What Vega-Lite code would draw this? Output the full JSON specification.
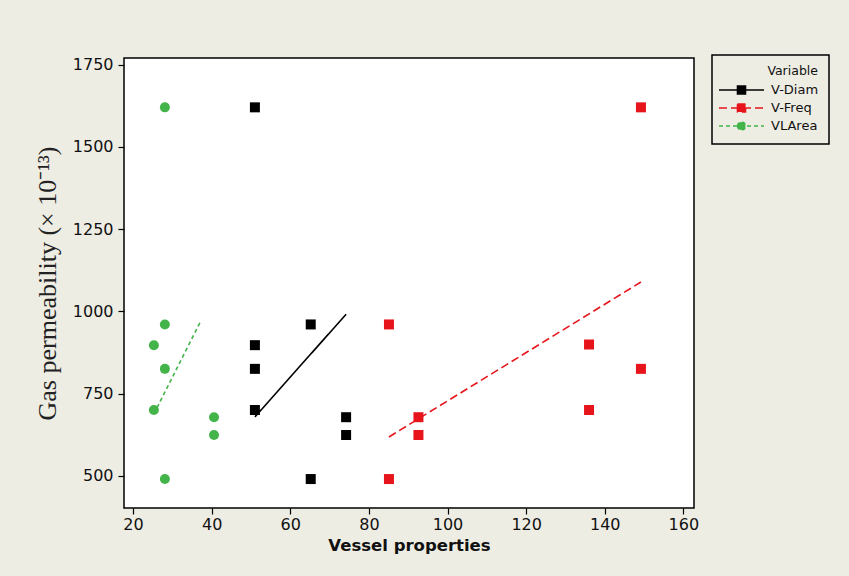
{
  "$schema": "https://vega.github.io/schema/vega-lite/v6.json",
  "autosize": "none",
  "width": 570,
  "height": 450,
  "padding": {"left": 124, "top": 58, "right": 155, "bottom": 68},
  "background": "#eeede4",
  "config": {
    "view": {"fill": "white", "stroke": "black", "strokeWidth": 1.5},
    "axis": {
      "domain": false, "grid": false, "tickColor": "black", "tickSize": 6, "tickWidth": 1.2,
      "labelFont": "DejaVu Sans", "labelFontSize": 16, "labelColor": "#111", "labelPadding": 2, "format": "d"
    }
  },
  "datasets": {
    "pts": [
      {"s": "V-Diam", "x": 51, "y": 1620}, {"s": "V-Diam", "x": 51, "y": 897}, {"s": "V-Diam", "x": 51, "y": 825}, {"s": "V-Diam", "x": 51, "y": 700},
      {"s": "V-Diam", "x": 65.2, "y": 960}, {"s": "V-Diam", "x": 65.2, "y": 490}, {"s": "V-Diam", "x": 74.2, "y": 678}, {"s": "V-Diam", "x": 74.2, "y": 624},
      {"s": "V-Freq", "x": 85.1, "y": 960}, {"s": "V-Freq", "x": 85.1, "y": 490}, {"s": "V-Freq", "x": 92.6, "y": 678}, {"s": "V-Freq", "x": 92.6, "y": 624},
      {"s": "V-Freq", "x": 136, "y": 899}, {"s": "V-Freq", "x": 136, "y": 700}, {"s": "V-Freq", "x": 149.2, "y": 825}, {"s": "V-Freq", "x": 149.2, "y": 1620}
    ],
    "ptsg": [
      {"s": "VLArea", "x": 28.1, "y": 1620}, {"s": "VLArea", "x": 28.1, "y": 960}, {"s": "VLArea", "x": 25.3, "y": 897}, {"s": "VLArea", "x": 28.1, "y": 825},
      {"s": "VLArea", "x": 25.3, "y": 700}, {"s": "VLArea", "x": 40.6, "y": 678}, {"s": "VLArea", "x": 40.6, "y": 624}, {"s": "VLArea", "x": 28.1, "y": 490}
    ],
    "fits": [
      {"s": "V-Diam", "x": 51, "y": 679}, {"s": "V-Diam", "x": 74.2, "y": 991},
      {"s": "V-Freq", "x": 85.1, "y": 618}, {"s": "V-Freq", "x": 149.2, "y": 1089},
      {"s": "VLArea", "x": 25.3, "y": 688}, {"s": "VLArea", "x": 37.3, "y": 972}
    ]
  },
  "encoding": {
    "x": {"field": "x", "type": "quantitative", "scale": {"domain": [17.7, 162.7], "nice": false, "zero": false},
      "axis": {"values": [20, 40, 60, 80, 100, 120, 140, 160], "title": "Vessel properties", "titleFont": "DejaVu Sans", "titleFontSize": 16.5, "titleFontWeight": "bold", "titleColor": "#111", "titlePadding": 5}},
    "y": {"field": "y", "type": "quantitative", "scale": {"domain": [402, 1770], "nice": false, "zero": false},
      "axis": {"values": [500, 750, 1000, 1250, 1500, 1750], "labelPadding": 5, "title": "Gas permeability (× 10⁻¹³)", "titleFont": "Liberation Serif", "titleFontSize": 26, "titleFontWeight": "normal", "titleColor": "#222", "titlePadding": 12}},
    "color": {"field": "s", "type": "nominal", "scale": {"domain": ["V-Diam", "V-Freq", "VLArea"], "range": ["#000000", "#e8141c", "#43b44a"]},
      "legend": {
        "title": "Variable", "orient": "none", "legendX": 588, "legendY": -3,
        "strokeColor": "black", "padding": 10,
        "titleFont": "DejaVu Sans", "titleFontSize": 12.5, "titleFontWeight": "normal", "titleColor": "#111", "titleAnchor": "end", "titlePadding": 6,
        "labelFont": "DejaVu Sans", "labelFontSize": 13, "labelColor": "#111", "labelOffset": 23,
        "symbolSize": 81, "rowPadding": 3, "symbolOffset": 13, "symbolStrokeWidth": 1.5,
        "symbolType": "M-5,0H5M-0.9,-0.9H0.9V0.9H-0.9Z",
        "encode": {
          "legend": {"update": {"strokeWidth": {"value": 1.5}}},
          "symbols": {"update": {
          "shape": {"signal": "datum.value === 'VLArea' ? 'M-5,0H5M-0.9,0A0.9,0.9,0,1,1,0.9,0A0.9,0.9,0,1,1,-0.9,0Z' : 'M-5,0H5M-0.9,-0.9H0.9V0.9H-0.9Z'"},
          "stroke": {"signal": "datum.value === 'VLArea' ? '#9fcf5a' : datum.value === 'V-Freq' ? '#e8141c' : '#000000'"},
          "fill": {"signal": "datum.value === 'VLArea' ? '#43b44a' : datum.value === 'V-Freq' ? '#e8141c' : '#000000'"},
          "strokeWidth": {"value": 1.5},
          "strokeDash": {"signal": "datum.value === 'V-Diam' ? [1,0] : datum.value === 'V-Freq' ? [6,3] : [3,3]"}
        }}}
      }}
  },
  "layer": [
    {
      "data": {"name": "fits"},
      "mark": {"type": "line", "strokeWidth": 1.6, "clip": true},
      "encoding": {
        "strokeDash": {"field": "s", "type": "nominal", "scale": {"domain": ["V-Diam", "V-Freq", "VLArea"], "range": [[1, 0], [8, 4], [4, 3]]}, "legend": null}
      }
    },
    {
      "data": {"name": "pts"},
      "mark": {"type": "point", "filled": true, "opacity": 1, "size": 100, "shape": "square"}
    },
    {
      "data": {"name": "ptsg"},
      "mark": {"type": "point", "filled": true, "opacity": 1, "size": 100, "shape": "circle"}
    }
  ]
}
